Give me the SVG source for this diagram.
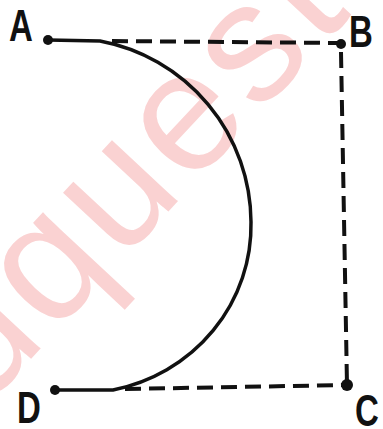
<svg xmlns="http://www.w3.org/2000/svg" width="383" height="429" viewBox="0 0 383 429">
<style>
.lbl{font-family:"Liberation Sans",Arial,sans-serif;font-weight:bold;font-size:44px;fill:#111}
.dash{stroke:#111;stroke-width:4;stroke-dasharray:16 8;fill:none}
.solid{stroke:#111;stroke-width:3.5;fill:none;stroke-linecap:round}
.dot{fill:#111}
.wm{font-family:"Liberation Sans",Arial,sans-serif;font-size:170px;letter-spacing:6px;fill:#fad2d2}
</style>
<rect width="383" height="429" fill="#fff"/>
<text class="wm" transform="translate(-166,570) rotate(-47)">Eduquest</text>
<g id="connectors">
<line class="dash" x1="112" y1="41" x2="341" y2="43"/>
<line class="dash" x1="341" y1="52" x2="347" y2="385"/>
<line class="dash" x1="125" y1="389" x2="347" y2="385"/>
<path class="solid" d="M48,40 L100,41 A185,185 0 0 1 251,222 A172,168 0 0 1 113,390 L55,390"/>
</g>
<g id="A"><circle class="dot" cx="48" cy="40" r="5"/><text class="lbl" transform="translate(9,41) scale(0.75,1)">A</text></g>
<g id="B"><circle class="dot" cx="341" cy="44" r="5"/><text class="lbl" transform="translate(349,47) scale(0.75,1)">B</text></g>
<g id="C"><circle class="dot" cx="347" cy="385" r="6"/><text class="lbl" transform="translate(355,426) scale(0.75,1)">C</text></g>
<g id="D"><circle class="dot" cx="55" cy="390" r="5"/><text class="lbl" transform="translate(17,423) scale(0.75,1)">D</text></g>
</svg>
